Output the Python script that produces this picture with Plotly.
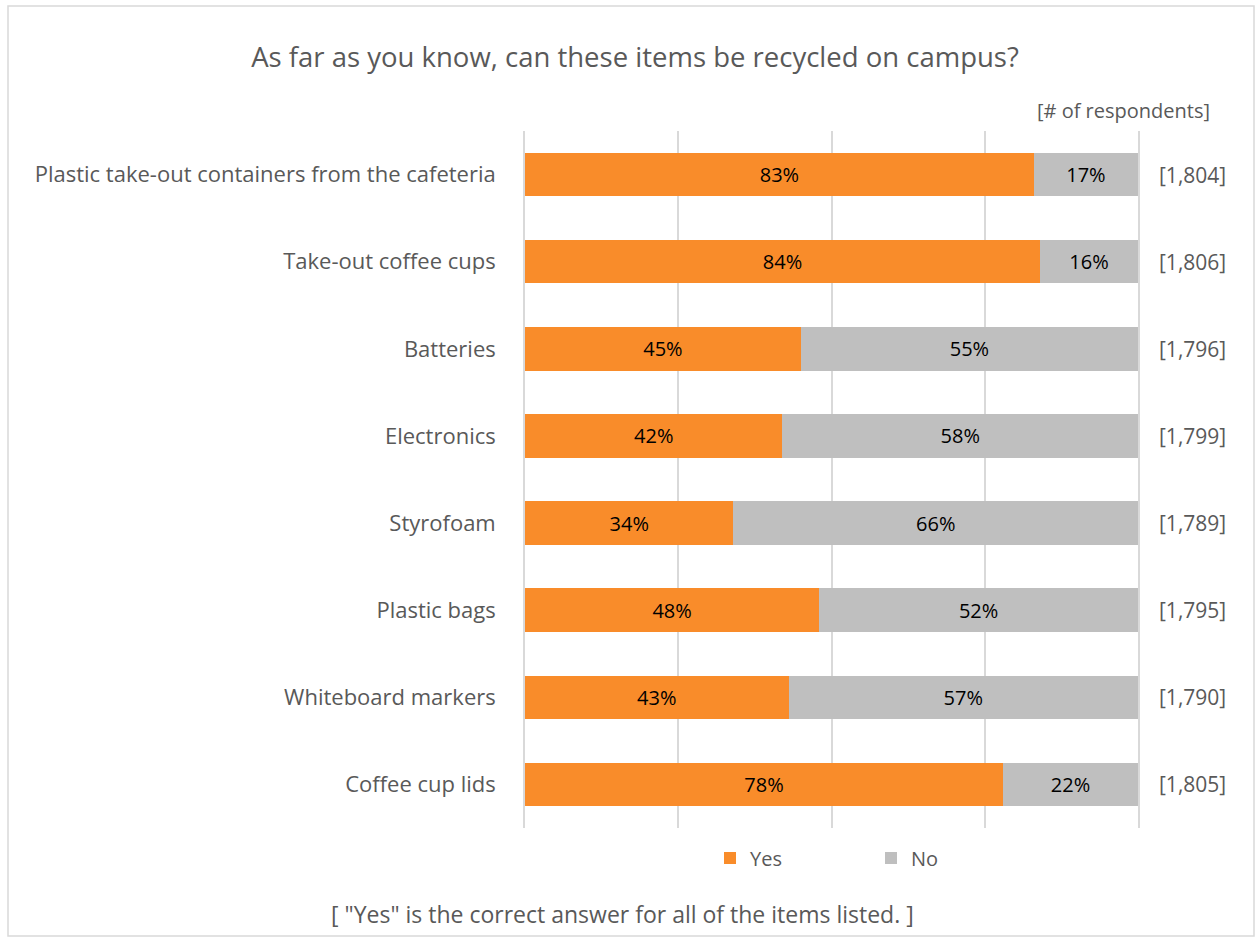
import plotly.graph_objects as go

items = [
    "Plastic take-out containers from the cafeteria",
    "Take-out coffee cups",
    "Batteries",
    "Electronics",
    "Styrofoam",
    "Plastic bags",
    "Whiteboard markers",
    "Coffee cup lids",
]
yes_pct = [83, 84, 45, 42, 34, 48, 43, 78]
no_pct = [17, 16, 55, 58, 66, 52, 57, 22]
respondents = ["[1,804]", "[1,806]", "[1,796]", "[1,799]", "[1,789]", "[1,795]", "[1,790]", "[1,805]"]

FONT = "Open Sans, Liberation Sans, sans-serif"
W, H = 1255, 937
L, R, T, B = 525, 117, 131, 109
pw, ph = W - L - R, H - T - B

fig = go.Figure()

fig.add_trace(go.Bar(
    y=items, x=yes_pct, name="Yes", orientation="h",
    marker=dict(color="#F98C2A", line=dict(width=0)),
    texttemplate="%{x}%", textposition="inside", insidetextanchor="middle",
    textfont=dict(family=FONT, size=20, color="#000000"),
    hoverinfo="skip",
))
fig.add_trace(go.Bar(
    y=items, x=no_pct, name="No", orientation="h",
    marker=dict(color="#BFBFBF", line=dict(width=0)),
    texttemplate="%{x}%", textposition="inside", insidetextanchor="middle",
    textfont=dict(family=FONT, size=20, color="#000000"),
    hoverinfo="skip",
))

# respondent counts on the right
for item, n in zip(items, respondents):
    fig.add_annotation(
        x=1, xref="x domain", y=item, yref="y", text=n, showarrow=False,
        xanchor="left", xshift=19, font=dict(family=FONT, size=21, color="#595959"),
    )

fig.add_annotation(
    x=(1212 - L) / pw, xref="paper", y=(H - B - 110) / ph, yref="paper",
    text="[# of respondents]", showarrow=False, xanchor="right", yanchor="middle",
    font=dict(family=FONT, size=20, color="#595959"),
)
fig.add_annotation(
    x=(622 - L) / pw, xref="paper", y=(H - B - 914) / ph, yref="paper",
    text='[ "Yes" is the correct answer for all of the items listed. ]', showarrow=False,
    xanchor="center", yanchor="middle",
    font=dict(family=FONT, size=23, color="#595959"),
)

# outer chart border
fig.add_shape(
    type="rect", xref="paper", yref="paper",
    x0=(8 - L) / pw, x1=(1254 - L) / pw, y0=(H - B - 936) / ph, y1=(H - B - 6) / ph,
    line=dict(color="#D9D9D9", width=1.5), fillcolor="rgba(0,0,0,0)", layer="below",
)

fig.update_layout(
    width=W, height=H,
    barmode="stack", bargap=0.5,
    title=dict(text="As far as you know, can these items be recycled on campus?",
               x=635 / W, xanchor="center", y=1 - 57 / H, yanchor="middle",
               font=dict(family=FONT, size=27.5, color="#595959")),
    plot_bgcolor="white", paper_bgcolor="white",
    margin=dict(l=L, r=R, t=T, b=B),
    xaxis=dict(range=[0, 100], dtick=25, showgrid=True, gridcolor="#D9D9D9", gridwidth=2,
               showticklabels=False, zeroline=False, showline=False, fixedrange=True),
    yaxis=dict(autorange="reversed", showgrid=False, ticks="", ticksuffix="    ",
               showline=True, mirror=True, linecolor="#D9D9D9", linewidth=2,
               tickfont=dict(family=FONT, size=22, color="#595959")),
    legend=dict(orientation="h", traceorder="normal", x=(710 - L) / pw, xanchor="left",
                y=-(858 - (H - B)) / ph, yanchor="middle", entrywidth=116,
                font=dict(family=FONT, size=20, color="#595959")),
    showlegend=True,
)

fig.write_html("out.html", config={"displayModeBar": False},
               post_script="document.body.style.margin='0';")
